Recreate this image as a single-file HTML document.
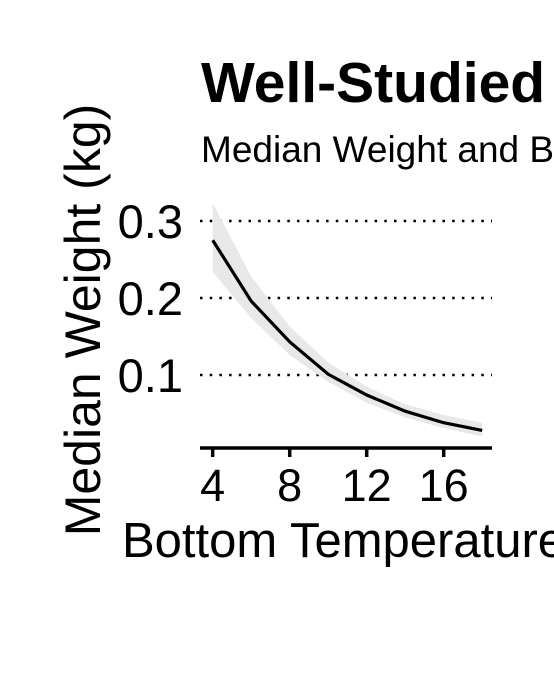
<!DOCTYPE html>
<html><head><meta charset="utf-8"><style>
html,body{margin:0;padding:0;background:#fff;overflow:hidden}
svg{display:block;font-family:"Liberation Sans",Arial,sans-serif}
</style></head><body>
<svg id="chart" width="554" height="688">
<text x="201" y="102" font-size="57" font-weight="bold">Well-Studied</text>
<text x="201" y="162" font-size="37">Median Weight and B</text>
<text transform="translate(100,320) rotate(-90)" text-anchor="middle" font-size="50">Median Weight (kg)</text>
<text x="122" y="557" font-size="49">Bottom Temperature</text>
<g id="plot"></g>
</svg>
<script>
const temps=[4,6,8,10,12,14,16,18];
const medianWeight=[0.275,0.196,0.143,0.101,0.074,0.053,0.038,0.028];
const upperBound=[0.323,0.228,0.163,0.116,0.085,0.062,0.048,0.038];
const lowerBound=[0.234,0.174,0.126,0.091,0.064,0.045,0.031,0.020];
const xTicks=[4,8,12,16];
const yTicks=[0.1,0.2,0.3];
const yTickLabels=["0.1","0.2","0.3"];
const NS="http://www.w3.org/2000/svg";
const X=v=>212.7+(v-4)*19.25;
const Y=v=>452-v*770;
const g=document.getElementById('plot');
function mk(t,a){const e=document.createElementNS(NS,t);for(const k in a)e.setAttribute(k,a[k]);g.appendChild(e);return e;}
yTicks.forEach((t,i)=>{
 const l=mk('line',{x1:200,x2:492,y1:Y(t),y2:Y(t),stroke:'#000','stroke-width':2.5,'stroke-dasharray':'2.5 7.2'});
 
 
 const tx=mk('text',{x:183,y:Y(t)+17,'text-anchor':'end','font-size':47});
 tx.textContent=yTickLabels[i];
 
 
});
let d='M'+temps.map((t,i)=>X(t)+','+Y(upperBound[i])).join('L');
for(let i=temps.length-1;i>=0;i--)d+='L'+X(temps[i])+','+Y(lowerBound[i]);
const rib=mk('path',{d:d+'Z',fill:'#e8e8e8'});


const ln=mk('polyline',{points:temps.map((t,i)=>X(t)+','+Y(medianWeight[i])).join(' '),fill:'none',stroke:'#000','stroke-width':3.2});


const ax=mk('line',{x1:200,x2:492,y1:448,y2:448,stroke:'#000','stroke-width':3.5});


xTicks.forEach(t=>{
 const tk=mk('line',{x1:X(t),x2:X(t),y1:448,y2:457,stroke:'#000','stroke-width':3.5});
 
 
 const tx=mk('text',{x:X(t),y:501,'text-anchor':'middle','font-size':45});
 tx.textContent=t;
 
 
});
</script>
</body></html>
